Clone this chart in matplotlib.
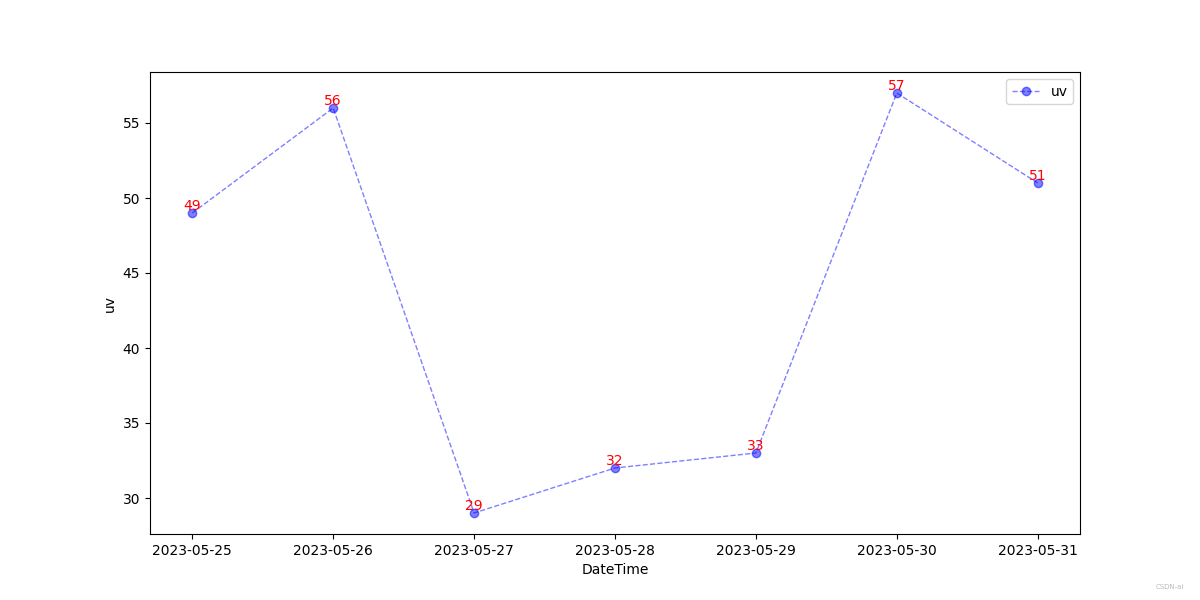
import pandas as pd
import matplotlib.pyplot as plt

dates = ["2023-05-25", "2023-05-26", "2023-05-27", "2023-05-28",
         "2023-05-29", "2023-05-30", "2023-05-31"]
uv = [49, 56, 29, 32, 33, 57, 51]

df = pd.DataFrame({"DateTime": pd.to_datetime(dates), "uv": uv})

fig, ax = plt.subplots(figsize=(12, 6), dpi=100)
ax.plot(df["DateTime"], df["uv"], color="blue", linestyle="--", linewidth=1,
        marker="o", alpha=0.5, label="uv")

for x, y in zip(df["DateTime"], df["uv"]):
    ax.text(x, y, str(y), ha="center", va="bottom", fontsize=10, color="red")

ax.set_xlabel("DateTime")
ax.set_ylabel("uv")
ax.legend(loc="upper right")

# watermark
fig.text(0.987, 0.018, "CSDN-ai", fontsize=5, color="#bbbbbb", ha="right")

fig.savefig("out.png")
